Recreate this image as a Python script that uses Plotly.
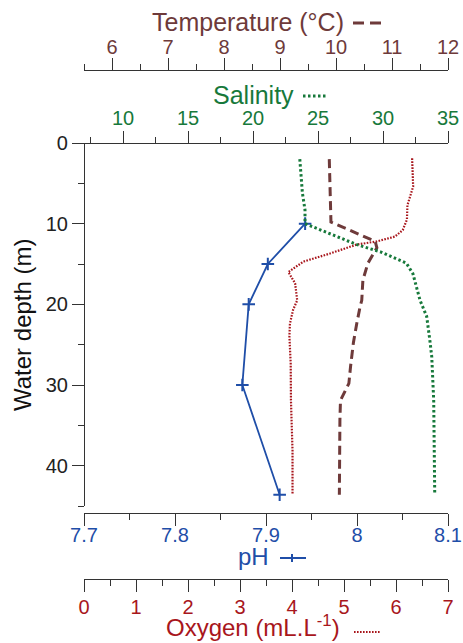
import plotly.graph_objects as go

# ---------------- data ----------------
ph_depth = [10, 15, 20, 30, 43.6]
ph_values = [7.943, 7.902, 7.881, 7.874, 7.915]

temp_depth = [2.0, 7.1, 9.8, 12.2, 13.0, 14.9, 17.0, 19.5, 20.3, 22.4, 24.8, 27.7, 29.8, 30.8, 31.9, 34.3, 43.6]
temp_values = [9.88, 9.905, 9.91, 10.70, 10.73, 10.57, 10.48, 10.46, 10.43, 10.37, 10.31, 10.26, 10.23, 10.16, 10.08, 10.07, 10.06]

sal_depth = [2.0, 6.2, 8.3, 10.0, 12.6, 13.5, 14.9, 16.2, 19.5, 21.5, 24.4, 26.5, 31.9, 43.6]
sal_values = [23.6, 23.8, 24.0, 24.0, 28.0, 29.8, 31.8, 32.3, 32.85, 33.36, 33.6, 33.75, 33.9, 33.98]

oxy_depth = [1.9, 5.4, 7.7, 9.5, 10.8, 11.6, 12.2, 12.6, 13.7, 14.7, 16.0, 17.4, 19.5, 20.7, 22.4, 24.0, 27.3, 31.9, 38.1, 43.6]
oxy_values = [6.31, 6.33, 6.22, 6.21, 6.13, 5.98, 5.63, 5.24, 4.73, 4.22, 3.93, 4.06, 4.10, 4.02, 3.96, 3.95, 3.975, 3.98, 4.01, 4.01]

# ---------------- styles ----------------
W, H = 463, 643
C_T = "#6e3a3a"
C_S = "#17793b"
C_P = "#1f4ea8"
C_O = "#a8161c"
AX = "#333333"
FONT = "Liberation Sans, Arial, sans-serif"

def px(x):
    return x / W

def py(y):
    return (H - y) / H

dom_x = [px(84), px(448)]
dom_y = [py(506), py(143)]

fig = go.Figure()

fig.add_trace(go.Scatter(x=oxy_values, y=oxy_depth, xaxis="x2", yaxis="y", mode="lines",
                         line=dict(color=C_O, width=2.2, dash="1.6px,1.4px"), showlegend=False))
fig.add_trace(go.Scatter(x=temp_values, y=temp_depth, xaxis="x3", yaxis="y", mode="lines",
                         line=dict(color=C_T, width=3, dash="9px,5px"), showlegend=False))
fig.add_trace(go.Scatter(x=sal_values, y=sal_depth, xaxis="x4", yaxis="y", mode="lines",
                         line=dict(color=C_S, width=3, dash="2.5px,2.5px"), showlegend=False))
fig.add_trace(go.Scatter(x=ph_values, y=ph_depth, xaxis="x", yaxis="y", mode="lines+markers",
                         line=dict(color=C_P, width=1.8),
                         marker=dict(symbol="cross-thin", size=9, line=dict(color=C_P, width=2)),
                         showlegend=False))

common = dict(showline=True, linecolor=AX, linewidth=1.2, ticks="outside", ticklen=12,
              tickwidth=1.2, tickcolor=AX, showgrid=False, zeroline=False,
              fixedrange=True, automargin=False)

def minor(d):
    return dict(dtick=d, ticklen=6, tickwidth=1.2, tickcolor=AX, ticks="outside", showgrid=False)

fig.update_layout(
    width=W, height=H, autosize=False,
    margin=dict(l=0, r=0, t=0, b=0, pad=0, autoexpand=False),
    paper_bgcolor="white", plot_bgcolor="white",
    font=dict(family=FONT),
    xaxis=dict(domain=dom_x, range=[7.7, 8.1], dtick=0.1, tick0=7.7, anchor="free",
               position=py(513), side="bottom", minor=minor(0.05), ticklabelstandoff=-8,
               tickfont=dict(size=20, color=C_P), **common),
    xaxis2=dict(domain=dom_x, range=[0, 7], dtick=1, tick0=0, anchor="free", overlaying="x",
                position=py(579), side="bottom", minor=minor(0.5), ticklabelstandoff=-2,
                tickfont=dict(size=20, color=C_O), **common),
    xaxis3=dict(domain=dom_x, range=[5.5, 12], dtick=1, tick0=6, anchor="free", overlaying="x",
                position=py(70), side="top", minor=minor(0.5), ticklabelstandoff=-4,
                tickfont=dict(size=20, color=C_T), **common),
    xaxis4=dict(domain=dom_x, range=[7, 35], dtick=5, tick0=10, anchor="free", overlaying="x",
                position=py(143), side="top", minor=minor(2.5), ticklabelstandoff=-2,
                tickfont=dict(size=20, color=C_S), **common),
    yaxis=dict(domain=dom_y, range=[45, 0], dtick=10, tick0=0, anchor="free", position=px(84),
               side="left", minor=minor(5), tickfont=dict(size=20, color="#222222"), **common),
)

ann = [
    dict(text="Temperature (°C)", x=px(248), y=py(22), color=C_T, size=25, ya="middle"),
    dict(text="Salinity", x=px(253), y=py(95), color=C_S, size=25, ya="middle"),
    dict(text="pH", x=px(253), y=py(556), color=C_P, size=24, ya="middle"),
    dict(text="Oxygen (mL.L<sup>-1</sup>)", x=px(253), y=py(642), color=C_O, size=24, ya="bottom"),
]
for a in ann:
    fig.add_annotation(text=a["text"], x=a["x"], y=a["y"], xref="paper", yref="paper",
                       xanchor="center", yanchor=a["ya"], showarrow=False, borderpad=0,
                       font=dict(size=a["size"], color=a["color"], family=FONT))
fig.add_annotation(text="Water depth (m)", x=px(22), y=py(325), xref="paper", yref="paper",
                   xanchor="center", yanchor="middle", textangle=-90, showarrow=False,
                   font=dict(size=24, color="#111111", family=FONT))

# legend samples next to axis titles
def seg(x0, x1, y0, y1, color, width, dash="solid"):
    fig.add_shape(type="line", xref="paper", yref="paper", x0=px(x0), x1=px(x1),
                  y0=py(y0), y1=py(y1), line=dict(color=color, width=width, dash=dash))

seg(353, 382, 23, 23, C_T, 3, "11px,6px")
seg(303, 328, 96, 96, C_S, 3, "2.5px,2.5px")
seg(280, 306, 558, 558, C_P, 2)
seg(292, 292, 554, 562, C_P, 2)
seg(354, 381, 632, 632, C_O, 2.2, "1.6px,1.4px")

fig.write_html("out.html", config={"displayModeBar": False},
               post_script="document.body.style.margin='0';document.body.style.overflow='hidden';")
